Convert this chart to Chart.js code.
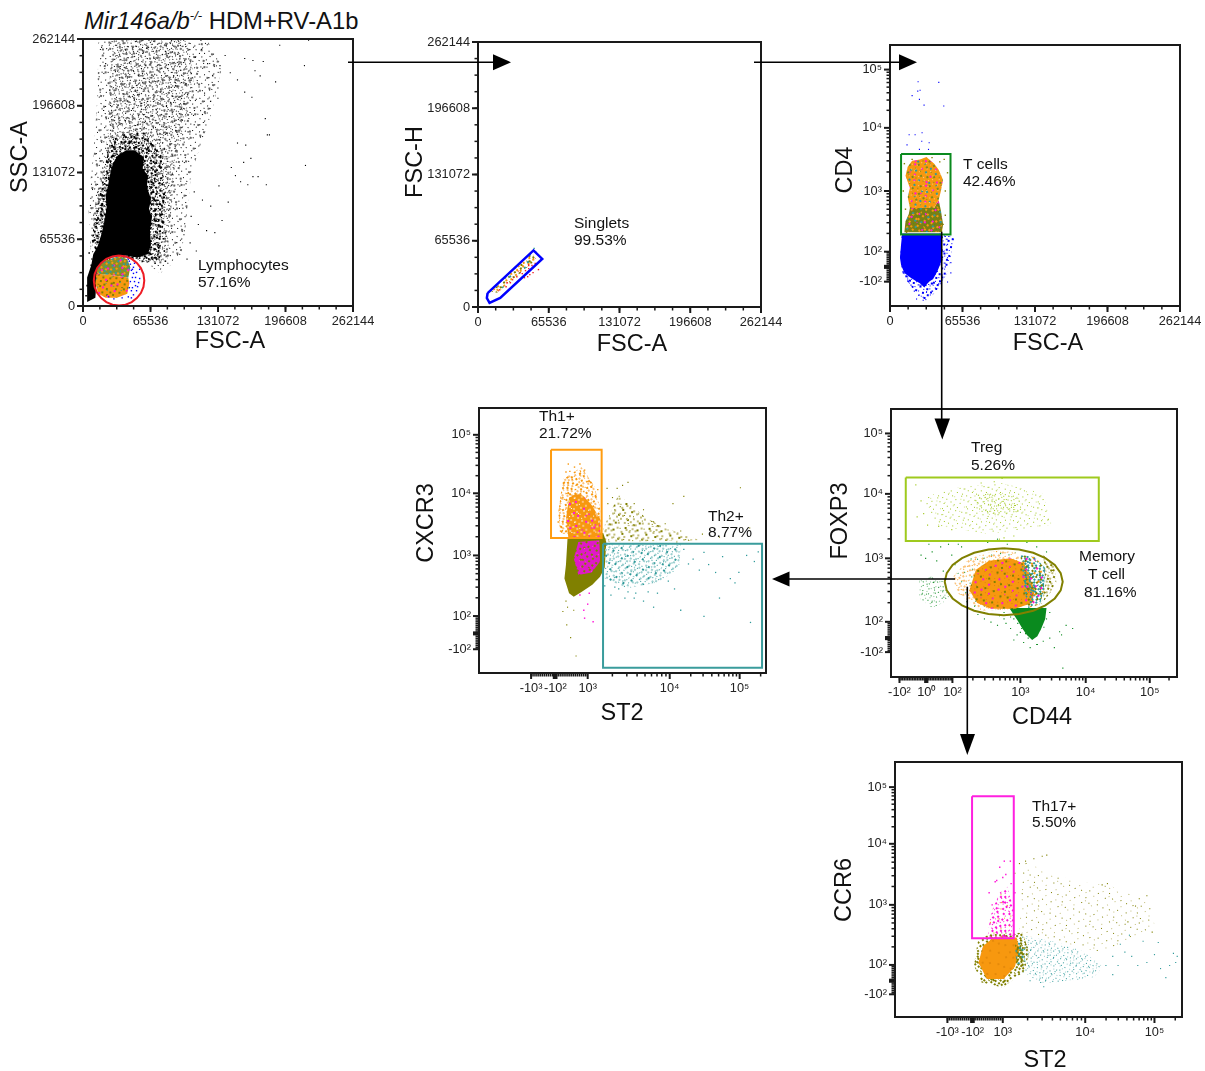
<!DOCTYPE html>
<html>
<head>
<meta charset="utf-8">
<title>Gating strategy</title>
<script src="https://cdn.jsdelivr.net/npm/chart.js@4"></script>
<style>
  html, body { margin: 0; background: #fff; }
  body { position: relative; width: 1205px; height: 1071px; overflow: hidden; font-family: "Liberation Sans", Arial, sans-serif; }
  canvas { position: absolute; }
  #heading { position: absolute; left: 84px; top: 7px; font-size: 23.8px; line-height: 28px; color: #111; white-space: nowrap; }
  #heading sup { font-size: 13px; line-height: 0; vertical-align: 9px; }
  #arrows { position: absolute; left: 0; top: 0; }
</style>
</head>
<body>
<div id="heading"><i>Mir146a/b<sup>-/-</sup></i> HDM+RV-A1b</div>

<script>
// Linear axes are in thousands of FSC/SSC units, log axes are display channels
// where 300 means the 10^3 tick (100 channels is about one decade).
const linTicks = [0, 65.536, 131.072, 196.608, 262.144];
const linLabels = ["0", "65536", "131072", "196608", "262144"];
const logLabelsY = ["-10²", "10²", "10³", "10⁴", "10⁵"];
const logLabelsSt2 = ["-10³", "-10²", "10³", "10⁴", "10⁵"];
const logLabelsCd44 = ["-10²", "10⁰", "10²", "10³", "10⁴", "10⁵"];

// ---- SSC-A / FSC-A
const sscOuter = [15,262, 120,262, 135,235, 125,190, 105,130, 100,80, 95,48, 75,32, 60,44, 8,45, 5,100, 10,150, 14,205];
const sscMiddle = [30,262, 100,262, 108,225, 98,175, 88,130, 85,85, 82,45, 62,42, 12,50, 10,90, 18,135, 25,175, 26,225];
const sscDense = [27,165, 58,172, 76,150, 80,110, 78,70, 72,44, 55,46, 14,50, 8,62, 12,90, 20,130];
const sscSolid = [34,148, 42,153, 50,153, 59,146, 58,135, 63,128, 62,117, 66,105, 64,96, 67,87, 65,75, 66,60, 63,51, 55,48, 49,48, 40,50, 30,48, 22,46, 16,38, 13,22, 12,8, 4,4, 4,28, 8,40, 10,51, 14,58, 18,71, 21,84, 23,97, 22,108, 24,117, 26,128, 29,140];
const sscFringe = [16,60, 18,66, 15,72, 20,78, 17,84, 21,90, 18,96, 23,102, 20,108, 24,114, 21,120, 25,126, 23,132, 27,138, 25,144, 29,148, 33,146, 31,154, 36,152, 40,160, 44,154, 47,162, 51,156, 55,150, 57,160, 61,146, 64,152, 66,140, 68,134, 63,128, 70,122, 66,116, 72,112, 68,106, 74,100, 70,94, 76,90, 71,84, 77,78, 72,72, 78,66, 73,60, 79,54, 74,48, 80,44, 70,42, 64,46, 58,44, 55,47, 26,46, 20,40, 8,40, 11,45, 6,52, 4,20, 3,10];
const sscBlack = [18,254, 27,258, 33,246, 41,252, 46,240, 52,260, 58,248, 63,255, 69,243, 74,258, 80,250, 86,261, 92,247, 97,255, 103,258, 109,244, 115,252, 121,238, 126,226, 133,236, 138,246, 143,229, 150,222, 157,243, 165,241, 172,226,
  22,238, 29,228, 36,233, 43,225, 49,231, 55,219, 61,236, 66,224, 72,232, 77,219, 83,237, 88,226, 94,235, 99,217, 105,228, 111,219, 118,209, 124,201, 131,214,
  26,212, 32,203, 38,217, 45,206, 51,211, 57,199, 63,214, 68,203, 75,210, 81,196, 87,206, 92,216, 98,199, 104,190, 110,203, 116,188,
  20,192, 28,186, 34,197, 41,182, 47,192, 53,178, 59,188, 65,181, 71,193, 78,176, 84,186, 90,172, 96,183, 102,171, 108,178,
  100,120, 108,112, 116,104, 124,98, 97,96, 105,88, 112,80, 120,74, 128,72, 135,84, 141,102, 148,128, 132,118, 98,70, 104,62, 110,54, 101,46,
  153,122, 160,119, 170,127, 178,119, 163,145, 144,136, 150,160, 158,158, 181,168, 164,205,
  215,236, 191,256, 219,261, 187,220, 177,184, 179,168, 216,138, 165,127, 156,141, 157,210, 175,240, 167,231, 131,204];
const lymphLower = [44,28, 45,22, 43,12, 33,8, 22,8, 15,12, 12,22, 13,32, 30,30];
const lymphUpper = [35,49, 43,46, 46,38, 44,28, 30,30, 13,32, 14,38, 20,44];
const lymphBlue = [46,41, 49,38, 52,33, 48,28, 50,24, 53,19, 47,15, 49,11, 44,9, 38,8, 30,7, 25,9, 44,46, 51,28, 55,27, 47,35, 55,36, 52,15, 46,24, 49,32, 45,44, 43,48, 54,23, 48,18, 50,42, 47,8, 51,20, 45,18, 48,36];
const lymphGate = [35,49.5, 41.3,48.7, 47.3,46.2, 52.3,42.3, 56.2,37.3, 58.7,31.3, 59.5,25, 58.7,18.7, 56.2,12.7, 52.3,7.7, 47.3,3.8, 41.3,1.3, 35,.5, 28.7,1.3, 22.7,3.8, 17.7,7.7, 13.8,12.7, 11.3,18.7, 10.5,25, 11.3,31.3, 13.8,37.3, 17.7,42.3, 22.7,46.2, 28.7,48.7, 35,49.5];

// ---- FSC-H / FSC-A
const singletBand = [12,15, 50,54, 54,47, 18,14];
const singletRed = [20,17, 27,24, 32,27, 36,30, 41,33, 44,36, 47,38, 50,41, 53,43, 43,29, 46,30, 51,34, 56,37, 48,32, 26,20, 30,24, 39,34, 47,41];
const singletTeal = [52,58, 25,29, 54,54];
const singletGate = [8.9,13.8, 51.4,56, 59.5,47.5, 20.6,8.9, 10.7,4, 8.2,8.9, 8.9,13.8];

// ---- CD4 / FSC-A
const cd4BlueHalo = [9,190, 12,160, 20,140, 32,118, 42,135, 52,165, 58,222, 47,230, 10,225];
const cd4BlueSolid = [11,230, 46,230, 47,205, 46,182, 43,168, 39,155, 35,150, 31,141, 27,148, 23,152, 18,158, 13,165, 10,178, 9,190, 10,212];
const cd4Blue = [25.4,480, 44.1,479, 27.2,466, 25.1,464.5, 20,457, 26.6,451, 30.8,441.5, 48.6,440, 29,396, 22.7,392.6, 17.3,392.6, 15.4,376, 28.7,382, 35.4,379.4, 26.6,368.5, 34.8,368.5, 25,540, 32,540,
  50,225, 52,212, 48,200, 52,190, 55,182, 50,175, 55,165, 47,160, 52,150, 44,147, 22,135, 26,128, 30,125, 33,133, 38,135, 28,145, 35,146, 19,145, 16,155, 12,165, 41,140, 30,120, 24,122];
const cd4Upper = [20,350, 27,352, 33,356, 40,345, 44,335, 48,318, 46,300, 44,285, 40,272, 18,272, 16,290, 18,305, 14,325, 16,340];
const cd4Lower = [18,272, 40,272, 44,285, 46,268, 48,245, 47,232, 13,232, 14,250, 17,262];
const cd4Olive = [46,236, 48,245, 50,260, 15,232, 13,345, 20,352, 38,355, 45,348, 49,352, 50,300, 52,330, 12,300, 14,270];
const cd4Gate = [10,360.8, 54.7,360.8, 54.7,228.5, 10,228.5, 10,360.8];

// ---- CXCR3 / ST2
const cxcr3OliveHalo = [320,345, 340,400, 375,362, 400,345, 445,325, 322,322];
const cxcr3OliveDots = [410,385, 424,397, 448,335, 470,330, 497,411, 509,345, 430,325, 415,322, 325,410, 332,395, 338,410, 345,415, 352,420, 326,385, 335,375, 342,380, 273,186, 278,165, 285,135, 268,208, 274,215, 282,210, 272,225, 360,385, 372,375, 385,355, 400,352, 420,340];
const cxcr3OliveArea = [274,328, 320,337, 324,322, 322,280, 316,265, 306,252, 292,240, 282,232, 276,238, 270,262, 272,285];
const cxcr3OrangeHalo = [268,425, 292,445, 308,415, 316,380, 317,335, 265,335, 262,370];
const cxcr3OrangeArea = [276,395, 286,402, 294,398, 304,385, 316,360, 317,330, 275,330, 272,360];
const cxcr3MagentaArea = [288,322, 315,325, 316,290, 305,272, 288,268, 282,295];
const cxcr3Orange = [270,420, 274,410, 280,425, 285,415, 290,432, 295,405, 299,421, 305,412, 310,398, 313,408, 277,438, 283,445, 296,440, 290,450, 275,450, 272,437, 268,395, 262,355, 265,340];
const cxcr3Magenta = [296,197, 307,191, 295,210, 300,220, 290,235, 302,238, 298,365, 305,345, 310,350, 293,342, 315,340, 302,332, 287,338];
const cxcr3TealDense = [322,318, 420,318, 418,280, 392,256, 350,246, 322,262];
const cxcr3Teal = [424,310, 430,286, 436,294, 444,276, 450,305, 456,285, 465,272, 474,298, 484,262, 495,272, 505,300, 515,290, 520,306, 322,250, 330,235, 340,245, 352,240, 360,230, 372,225, 385,215, 420,210, 450,200, 470,230, 490,255, 510,190, 335,248, 348,230, 362,238, 378,240, 390,238, 404,258, 412,245];
const th1Gate = [252.7,473.6, 318,473.6, 318,328.4, 252.7,328.4, 252.7,473.6];
const th2Gate = [319.8,319, 524.9,319, 524.9,115.5, 319.8,115.5, 319.8,319];

// ---- FOXP3 / CD44
const foxGreenLeft = [145,265, 165,272, 185,262, 192,236, 165,222, 145,238];
const foxGreenWedge = [283,222, 340,222, 338,205, 332,190, 326,178, 318,172, 310,180, 303,190, 296,202];
const foxGreen = [172,296, 165,310, 155,300, 148,305, 160,322, 178,318, 190,322, 195,305, 200,290, 205,322, 210,318, 182,280,
  235,212, 245,205, 255,200, 265,195, 275,205, 285,190, 295,180, 305,168, 315,160, 325,165, 335,170, 345,175, 352,160, 360,185, 370,195, 380,190, 245,225, 230,225, 218,232, 290,172, 363,180,
  250,325, 265,330, 280,322, 295,328, 310,325, 325,318, 340,310, 365,128, 290,205, 296,198, 302,190, 308,182, 312,175, 336,192, 340,205, 345,215, 300,184, 326,165, 330,188, 278,198, 268,210, 255,212, 245,215, 285,208, 275,215];
const tregWide = [150,395, 200,410, 270,418, 335,402, 348,352, 250,338, 170,352];
const tregCore = [228,398, 258,404, 296,398, 304,372, 262,366, 232,374];
const tregDots = [140,415, 148,390, 152,370, 342,360, 268,330, 275,332, 282,328, 290,335, 260,420, 272,425, 240,418, 142,365, 158,352, 175,350, 195,345];
const foxOrangeHalo = [196,270, 222,300, 262,312, 290,312, 310,290, 320,240, 290,220, 240,218, 205,245];
const foxOrangeArea = [222,250, 232,282, 252,296, 285,300, 306,292, 322,250, 318,230, 292,221, 255,221, 234,230];
const foxTealArea = [300,305, 322,302, 338,285, 336,250, 330,228, 312,222, 306,250];
const foxOliveSide = [335,305, 352,288, 355,262, 345,245, 332,228, 338,262];
const tregGate = [124.6,426.7, 420,426.7, 420,327, 124.6,327, 124.6,426.7];
const memoryGate = [274.5,315.7, 297.9,313.9, 319.7,308.7, 338.3,300.3, 352.7,289.5, 361.7,276.9, 364.8,263.3, 361.7,249.7, 352.7,237.1, 338.3,226.3, 319.7,217.9, 297.9,212.7, 274.5,210.9, 251.1,212.7, 229.3,217.9, 210.7,226.3, 196.3,237.1, 187.3,249.7, 184.2,263.3, 187.3,276.9, 196.3,289.5, 210.7,300.3, 229.3,308.7, 251.1,313.9, 274.5,315.7];

// ---- CCR6 / ST2
const ccr6Rim = [262,200, 267,240, 282,252, 326,254, 335,222, 328,190, 300,164, 272,172];
const ccr6OrangeArea = [268,205, 274,232, 288,246, 318,246, 322,226, 316,198, 301,178, 279,178];
const ccr6DarkArea = [316,240, 327,236, 330,205, 318,200];
const ccr6MagentaArea = [280,246, 314,246, 315,292, 306,330, 296,320, 284,285];
const ccr6Magenta = [290,338, 296,362, 304,350, 311,335, 316,320, 282,320, 310,372, 302,372, 286,300, 292,340, 300,345];
const ccr6OliveWide = [322,252, 325,372, 392,340, 445,330, 498,300, 500,260, 430,222, 370,240];
const ccr6OliveDots = [316,352, 322,368, 330,372, 341,376, 352,380, 358,382, 431,333, 438,335, 475,298, 480,310, 490,315, 465,272, 480,270, 497,255];
const ccr6TealArea = [325,250, 372,238, 405,224, 432,198, 420,180, 352,170, 325,190];
const ccr6Teal = [436,200, 445,185, 461,222, 478,200, 490,205, 500,218, 508,195, 520,200, 528,205, 515,180, 455,235, 467,250, 485,240, 505,238, 525,220, 530,215, 336,175, 350,172, 354,165, 445,215, 452,200, 470,215];
const th17Gate = [259.5,478.8, 314.5,478.8, 314.5,245, 259.5,245, 259.5,478.8];

// fixed speckle positions inside a 24x24 tile, used to fill the dense parts of a cloud
const speckA = [3,1, 11,0, 18,2, 7,4, 22,5, 14,6, 1,7, 10,9, 19,8, 5,10, 16,11, 23,12, 8,13, 2,14, 13,15, 20,15, 6,17, 17,18, 0,19, 11,19, 22,20, 4,21, 15,22, 9,23];
const speckB = [6,1, 15,3, 21,2, 0,4, 10,5, 18,5, 3,8, 13,10, 22,8, 8,11, 18,13, 1,11, 11,13, 5,14, 15,16, 22,16, 9,16, 2,18, 19,19, 13,20, 7,20, 0,22, 17,23, 21,23];
const speckC = [8,2, 13,2, 23,2, 4,4, 16,4, 20,6, 8,7, 1,9, 15,8, 10,11, 20,11, 3,12, 13,12, 23,14, 7,15, 17,15, 0,16, 11,17, 4,18, 21,18, 15,19, 9,21, 19,22, 2,23];
const speckD = [2,3, 14,1, 20,9, 7,12, 16,17, 4,20, 11,7, 22,22];
const speckE = [9,2, 19,4, 3,11, 13,13, 22,14, 7,18, 17,21, 1,23];
const speckF = [6,6, 17,8, 0,14, 10,16, 21,18, 12,22, 23,3, 5,0];
const speckG = [12,4, 1,8, 18,12, 8,20, 15,10, 3,17, 20,1, 23,20];

// colours of the populations
const BLACK = "#000", BLUE = "#0000ff", RED = "#ee1c25", ORANGE = "#f7980f", OLIVE = "#808000",
  MAGENTA = "#ff14d8", TEAL = "#2f9a9a", GREEN = "#0a8a1e", LIME = "#a3c922", PALE_ORANGE = "#fbc27a", PALE_OLIVE = "#c2bd7a", PALE_TEAL = "#9ccfcf";
const FONT = '"Liberation Sans", Arial, sans-serif';

function pairs(flat) {
  const out = [];
  for (let i = 0; i < flat.length; i += 2) out.push({ x: flat[i], y: flat[i + 1] });
  return out;
}

const tileCtx = document.createElement("canvas").getContext("2d");
let tileTurn = 11;
// makes a repeating fill from a background and [colour, speckle list, cell size] layers,
// each tile turned a bit so the repeat does not read as rows
function speckle(background, layers) {
  const tile = document.createElement("canvas");
  tile.width = tile.height = 24;
  const c = tile.getContext("2d");
  if (background) { c.fillStyle = background; c.fillRect(0, 0, 24, 24); }
  layers.forEach(([color, list, cell]) => {
    c.fillStyle = color;
    for (let i = 0; i < list.length; i += 2) c.fillRect(list[i], list[i + 1], cell, cell);
  });
  const pattern = tileCtx.createPattern(tile, "repeat");
  pattern.setTransform(new DOMMatrix().rotateSelf(tileTurn));
  tileTurn = (tileTurn + 29) % 90;
  return pattern;
}

const dots = (flat, color, r = 0.8) => ({ data: pairs(flat), showLine: false, pointStyle: "rect", pointRadius: r, pointBorderWidth: 0, backgroundColor: color });
const area = (flat, color) => ({ data: pairs(flat), showLine: true, fill: "shape", backgroundColor: color, borderWidth: 0, pointRadius: 0 });
const gate = (flat, color, w = 2) => ({ data: pairs(flat), showLine: true, borderColor: color, borderWidth: w, pointRadius: 0, fill: false });

// log style tick sets: 2..9 inside each decade, a dense block around zero
function logMinor(decades, lo, hi, step) {
  const out = [];
  for (let i = 0; i + 1 < decades.length; i++) {
    for (let m = 2; m < 10; m++) out.push(decades[i] + Math.log10(m) * (decades[i + 1] - decades[i]));
  }
  for (let v = lo; v < hi; v += step) out.push(v);
  return out;
}
function linMinor() {
  const out = [];
  for (let v = 16.384; v < 262; v += 16.384) out.push(v);
  return out;
}

const panels = [
  {
    box: [83, 39, 353, 306],
    x: { min: 0, max: 262.144, major: linTicks, labels: linLabels, minor: linMinor() },
    y: { min: 0, max: 262.144, major: linTicks, labels: linLabels, minor: linMinor() },
    titles: [["FSC-A", 230, 342, 0], ["SSC-A", 21, 157, 1]],
    notes: [["Lymphocytes", 198, 266], ["57.16%", 198, 283]],
    sets: [
      area(sscOuter, speckle(null, [[BLACK, speckA, 1], ["#666", speckF, 2]])),
      area(sscMiddle, speckle(null, [[BLACK, speckB, 1], ["#555", speckC, 1], ["#777", speckD, 2]])),
      area(sscDense, speckle(null, [[BLACK, speckA, 2], [BLACK, speckB, 1], [BLACK, speckE, 2]])),
      dots(sscBlack, BLACK), area(sscSolid, BLACK), dots(sscFringe, BLACK, 1.1),
      area(lymphLower, speckle(ORANGE, [[OLIVE, speckA, 2], [MAGENTA, speckD, 2], [TEAL, speckE, 1]])),
      area(lymphUpper, speckle("#8a8f24", [[ORANGE, speckA, 2], [MAGENTA, speckD, 2], [TEAL, speckC, 2]])),
      dots(lymphBlue, BLUE, 1),
      gate(lymphGate, RED),
    ],
  },
  {
    box: [478, 42, 761, 307],
    x: { min: 0, max: 262.144, major: linTicks, labels: linLabels, minor: linMinor() },
    y: { min: 0, max: 262.144, major: linTicks, labels: linLabels, minor: linMinor() },
    titles: [["FSC-A", 632, 345, 0], ["FSC-H", 416, 162, 1]],
    notes: [["Singlets", 574, 224], ["99.53%", 574, 241]],
    sets: [
      dots(singletRed, RED, 1),
      area(singletBand, speckle(null, [[OLIVE, speckA, 2], [ORANGE, speckB, 2], [TEAL, speckD, 2], [RED, speckE, 1]])),
      dots(singletTeal, TEAL, 1),
      gate(singletGate, BLUE, 2.5),
    ],
  },
  {
    box: [890, 45, 1180, 306],
    x: { min: 0, max: 262.144, major: linTicks, labels: linLabels, minor: linMinor() },
    y: { min: 110.5, max: 540.5, major: [150.6, 200, 300, 404, 500], labels: logLabelsY, minor: logMinor([200, 300, 404, 500], 151, 200, 3), blob: 175 },
    titles: [["FSC-A", 1048, 344, 0], ["CD4", 846, 170, 1]],
    notes: [["T cells", 963, 165], ["42.46%", 963, 182]],
    sets: [
      area(cd4BlueHalo, speckle(null, [[BLUE, speckA, 2], [BLUE, speckB, 1]])), area(cd4BlueSolid, BLUE), dots(cd4Blue, BLUE),
      area(cd4Lower, speckle("#7d7f12", [[ORANGE, speckA, 2], [TEAL, speckD, 2], [MAGENTA, speckE, 2], ["#3f8f2a", speckC, 1]])),
      area(cd4Upper, speckle(ORANGE, [["#7d8a1a", speckD, 2], ["#7d8a1a", speckE, 1], [TEAL, speckF, 2], [MAGENTA, speckG, 2], ["#f9c77f", speckC, 1]])),
      dots(cd4Olive, OLIVE, 1),
      gate(cd4Gate, GREEN),
    ],
  },
  {
    box: [479, 408, 766, 673],
    x: { min: 159.8, max: 530, major: [227, 258.3, 300, 405.8, 496], labels: logLabelsSt2, minor: logMinor([300, 405.8, 496, 586], 227, 300, 2.5), blob: 258 },
    y: { min: 107, max: 542, major: [146, 200.5, 300, 402, 498], labels: logLabelsY, minor: logMinor([200.5, 300, 402, 498], 146, 200, 3), blob: 172 },
    titles: [["ST2", 622, 714, 0], ["CXCR3", 427, 523, 1]],
    notes: [["Th1+", 539, 417], ["21.72%", 539, 434], ["Th2+", 708, 517], ["8.77%", 708, 533]],
    sets: [
      area(cxcr3OliveHalo, speckle(null, [[OLIVE, speckD, 2], [OLIVE, speckE, 1], [PALE_OLIVE, speckB, 2]])), dots(cxcr3OliveDots, OLIVE),
      area(cxcr3OliveArea, OLIVE),
      area(cxcr3MagentaArea, speckle("#e018c8", [[OLIVE, speckA, 2], ["#ff40e0", speckD, 1]])),
      area(cxcr3OrangeHalo, speckle(null, [[ORANGE, speckA, 2], [PALE_ORANGE, speckB, 2], [ORANGE, speckD, 1]])),
      area(cxcr3OrangeArea, speckle(ORANGE, [[PALE_ORANGE, speckA, 2], ["#fff", speckE, 1], [MAGENTA, speckF, 2]])),
      dots(cxcr3Orange, ORANGE, 1), dots(cxcr3Magenta, MAGENTA, 1),
      area(cxcr3TealDense, speckle(null, [[TEAL, speckA, 1], [TEAL, speckD, 2], [PALE_TEAL, speckC, 2]])),
      dots(cxcr3Teal, TEAL, 0.9),
      gate(th1Gate, "#ff9c10"), gate(th2Gate, "#3a9c9c"),
    ],
  },
  {
    box: [891, 409, 1177, 677],
    x: { min: 102, max: 539.7, major: [115, 156, 196, 300, 400, 498], labels: logLabelsCd44, minor: logMinor([196, 300, 400, 498, 596], 115, 196, 2.5), blob: 156 },
    y: { min: 114, max: 534, major: [153, 200.5, 300, 401, 495.7], labels: logLabelsY, minor: logMinor([200.5, 300, 401, 495.7], 153, 200, 3), blob: 175 },
    titles: [["CD44", 1042, 718, 0], ["FOXP3", 841, 521, 1]],
    notes: [["Treg", 971, 448], ["5.26%", 971, 466], ["Memory", 1079, 557], ["T cell", 1088, 575], ["81.16%", 1084, 593]],
    sets: [
      area(foxGreenLeft, speckle(null, [[GREEN, speckA, 1], [GREEN, speckD, 1], ["#7fc08a", speckC, 1]])),
      area(foxGreenWedge, GREEN), dots(foxGreen, GREEN),
      area(tregWide, speckle(null, [[LIME, speckA, 1], ["#cfe38a", speckD, 1]])),
      area(tregCore, speckle(null, [[LIME, speckB, 1], [LIME, speckC, 1]])), dots(tregDots, LIME),
      area(foxOrangeHalo, speckle(null, [[ORANGE, speckA, 1], [GREEN, speckD, 1], [PALE_ORANGE, speckC, 2]])),
      area(foxOrangeArea, speckle(ORANGE, [[OLIVE, speckD, 2], [MAGENTA, speckE, 2], ["#e07a10", speckC, 1]])),
      area(foxOliveSide, speckle(null, [[OLIVE, speckA, 2], [PALE_OLIVE, speckB, 2]])),
      area(foxTealArea, speckle(null, [[TEAL, speckA, 2], [TEAL, speckB, 2], [OLIVE, speckC, 2], [ORANGE, speckD, 2], [MAGENTA, speckE, 2]])),
      gate(tregGate, "#9fca1e"), gate(memoryGate, OLIVE),
    ],
  },
  {
    box: [895, 762, 1182, 1017],
    x: { min: 157.9, max: 536.3, major: [227, 260.4, 300, 408.7, 500], labels: logLabelsSt2, minor: logMinor([300, 408.7, 500, 591], 227, 300, 2.5), blob: 260 },
    y: { min: 115.2, max: 535.4, major: [152.6, 201, 300, 400.6, 494], labels: logLabelsY, minor: logMinor([201, 300, 400.6, 494], 153, 200, 3), blob: 175 },
    titles: [["ST2", 1045, 1061, 0], ["CCR6", 845, 890, 1]],
    notes: [["Th17+", 1032, 807], ["5.50%", 1032, 823]],
    sets: [
      area(ccr6OliveWide, speckle(null, [[OLIVE, speckD, 1], [PALE_OLIVE, speckE, 1]])), dots(ccr6OliveDots, OLIVE),
      area(ccr6TealArea, speckle(null, [[TEAL, speckA, 1], [TEAL, speckD, 1], [PALE_TEAL, speckC, 1]])), dots(ccr6Teal, TEAL),
      area(ccr6Rim, speckle(null, [[OLIVE, speckA, 2], [OLIVE, speckB, 2]])),
      area(ccr6OrangeArea, speckle(ORANGE, [["#e58a0a", speckD, 2]])), area(ccr6DarkArea, speckle(null, [[OLIVE, speckA, 2], [OLIVE, speckB, 2], [TEAL, speckC, 2]])),
      area(ccr6MagentaArea, speckle(null, [[MAGENTA, speckA, 2], [MAGENTA, speckB, 1], [ORANGE, speckD, 1]])),
      dots(ccr6Magenta, MAGENTA, 1),
      gate(th17Gate, "#ff20e0"),
    ],
  },
];

const MARGIN = { left: 80, top: 10, right: 22, bottom: 52 };

// draws the frame, the long/short tick marks and the free text of one panel
function panelPlugin(panel, offsetX, offsetY) {
  return {
    id: "panelDecor",
    afterDatasetsDraw(chart) {
      const { ctx, chartArea: a, scales } = chart;
      const drawTicks = (scale, spec, horizontal) => {
        const mark = (v, len, w) => {
          const p = scale.getPixelForValue(v);
          if (p < (horizontal ? a.left : a.top) - 1 || p > (horizontal ? a.right : a.bottom) + 1) return;
          ctx.lineWidth = w;
          ctx.beginPath();
          if (horizontal) { ctx.moveTo(p, a.bottom); ctx.lineTo(p, a.bottom + len); }
          else { ctx.moveTo(a.left, p); ctx.lineTo(a.left - len, p); }
          ctx.stroke();
        };
        spec.minor.forEach((v) => mark(v, 3.5, 1.5));
        spec.major.forEach((v) => mark(v, 6, 2));
        if (spec.blob) [-2, -1, 0, 1, 2].forEach((d) => mark(spec.blob + d, 6, 1.6));
      };
      ctx.save();
      ctx.strokeStyle = "#1a1a1a";
      ctx.lineWidth = 2;
      ctx.strokeRect(a.left, a.top, a.right - a.left, a.bottom - a.top);
      drawTicks(scales.x, panel.x, true);
      drawTicks(scales.y, panel.y, false);

      ctx.fillStyle = "#111";
      ctx.textBaseline = "middle";
      ctx.textAlign = "center";
      ctx.font = "23.5px " + FONT;
      panel.titles.forEach(([text, x, y, vertical]) => {
        ctx.save();
        ctx.translate(x - offsetX, y - offsetY);
        if (vertical) ctx.rotate(-Math.PI / 2);
        ctx.fillText(text, 0, 0);
        ctx.restore();
      });
      ctx.textAlign = "left";
      ctx.font = "15.5px " + FONT;
      panel.notes.forEach(([text, x, y]) => ctx.fillText(text, x - offsetX, y - offsetY));
      ctx.restore();
    },
  };
}

function axisOptions(spec, horizontal) {
  return {
    type: "linear",
    min: spec.min,
    max: spec.max,
    afterBuildTicks(scale) { scale.ticks = spec.major.map((v) => ({ value: v })); },
    afterFit(scale) {
      if (horizontal) scale.height = MARGIN.bottom; else scale.width = MARGIN.left;
      scale.paddingLeft = scale.paddingRight = scale.paddingTop = scale.paddingBottom = 0;
    },
    grid: { display: false, drawTicks: false },
    border: { display: false },
    ticks: {
      autoSkip: false,
      maxRotation: 0,
      padding: 8,
      color: "#222",
      font: { family: FONT, size: 12.8 },
      callback: (v, i) => spec.labels[i],
    },
  };
}

panels.forEach((panel) => {
  const [l, t, r, b] = panel.box;
  const canvas = document.createElement("canvas");
  const left = l - MARGIN.left, top = t - MARGIN.top;
  canvas.width = r - l + MARGIN.left + MARGIN.right;
  canvas.height = b - t + MARGIN.top + MARGIN.bottom;
  canvas.style.left = left + "px";
  canvas.style.top = top + "px";
  document.body.appendChild(canvas);

  const count = panel.sets.length;
  panel.sets.forEach((set, i) => { set.order = count - i; }); // later sets paint on top

  new Chart(canvas.getContext("2d"), {
    type: "scatter",
    data: { datasets: panel.sets },
    options: {
      responsive: false,
      animation: false,
      devicePixelRatio: 1,
      layout: { padding: { left: 0, top: MARGIN.top, right: MARGIN.right, bottom: 0 } },
      scales: { x: axisOptions(panel.x, true), y: axisOptions(panel.y, false) },
      plugins: { legend: { display: false }, tooltip: { enabled: false } },
    },
    plugins: [panelPlugin(panel, left, top)],
  });
});
</script>

<svg id="arrows" width="1205" height="1071" xmlns="http://www.w3.org/2000/svg">
  <g stroke="#000" stroke-width="1.6" fill="none">
    <path d="M348 62.3H495"/>
    <path d="M754 62.3H901"/>
    <path d="M941.7 231.7V420"/>
    <path d="M955 579H787"/>
    <path d="M967.3 586.7V735"/>
  </g>
  <g fill="#000">
    <path d="M493 54.3L511 62.3L493 70.3Z"/>
    <path d="M899 54.3L917 62.3L899 70.3Z"/>
    <path d="M934.5 418.5L942.3 439.5L950 418.5Z"/>
    <path d="M789.5 571.5L772 579L789.5 586.5Z"/>
    <path d="M960 734L967.3 755L975 734Z"/>
  </g>
</svg>
</body>
</html>
